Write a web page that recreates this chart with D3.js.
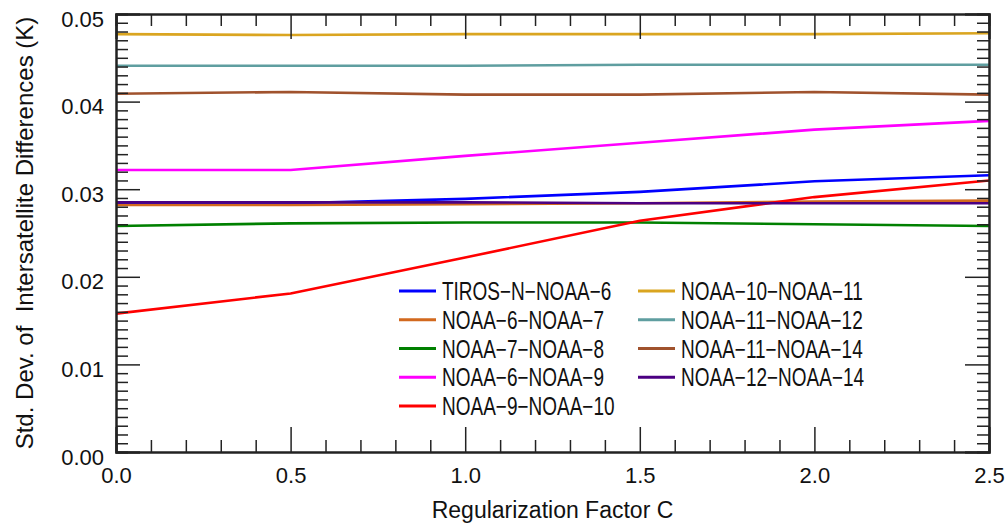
<!DOCTYPE html>
<html>
<head>
<meta charset="utf-8">
<script src="https://cdn.jsdelivr.net/npm/d3@7"></script>
<style>
    body { margin: 0; background: #fff; }
    text { font-family: "Liberation Sans", Arial, sans-serif; fill: #111; }
    .axis path, .axis line { stroke: #222; }
    .axis path { stroke-width: 2; }
    .axis line { stroke-width: 1.5; }
</style>
</head>
<body>
<script>
// values, C = 0 .. 2.5 in steps of 0.5
var cValues = [0.0, 0.5, 1.0, 1.5, 2.0, 2.5];

var tirosNoaa6  = [0.0284, 0.0284, 0.0289, 0.0297, 0.0309, 0.0316];
var noaa6Noaa7  = [0.0282, 0.0282, 0.0283, 0.0284, 0.0286, 0.0287];
var noaa7Noaa8  = [0.0258, 0.0261, 0.0262, 0.0262, 0.0260, 0.0258];
var noaa6Noaa9  = [0.0322, 0.0322, 0.0338, 0.0353, 0.0368, 0.0378];
var noaa9Noaa10 = [0.0158, 0.0181, 0.0222, 0.0264, 0.0291, 0.0310];
var noaa10Noaa11 = [0.0477, 0.0476, 0.0477, 0.0477, 0.0477, 0.0478];
var noaa11Noaa12 = [0.0441, 0.0441, 0.0441, 0.0442, 0.0442, 0.0442];
var noaa11Noaa14 = [0.0409, 0.0411, 0.0408, 0.0408, 0.0411, 0.0408];
var noaa12Noaa14 = [0.0285, 0.0285, 0.0285, 0.0284, 0.0284, 0.0284];

var seriesNames = ["TIROS\u2212N\u2212NOAA\u22126", "NOAA\u22126\u2212NOAA\u22127", "NOAA\u22127\u2212NOAA\u22128",
                   "NOAA\u22126\u2212NOAA\u22129", "NOAA\u22129\u2212NOAA\u221210", "NOAA\u221210\u2212NOAA\u221211",
                   "NOAA\u221211\u2212NOAA\u221212", "NOAA\u221211\u2212NOAA\u221214", "NOAA\u221212\u2212NOAA\u221214"];
var seriesColors = ["#0000ff", "#d2691e", "#008000", "#ff00ff", "#ff0000",
                    "#daa520", "#5f9ea0", "#a0522d", "#4b0082"];
var seriesValues = [tirosNoaa6, noaa6Noaa7, noaa7Noaa8, noaa6Noaa9, noaa9Noaa10,
                    noaa10Noaa11, noaa11Noaa12, noaa11Noaa14, noaa12Noaa14];

var xMajor = [0, 0.5, 1.0, 1.5, 2.0, 2.5];
var yMajor = [0, 0.01, 0.02, 0.03, 0.04, 0.05];

var margin = {top: 14, right: 16, bottom: 73, left: 116},
    width = 1005 - margin.left - margin.right,
    height = 525 - margin.top - margin.bottom;

var x = d3.scaleLinear().domain([0, 2.5]).range([0, width]);
var y = d3.scaleLinear().domain([0, 0.05]).range([height, 0]);

var xMinor = d3.range(0, 26).map(function(i) { return i / 10; })
        .filter(function(v) { return Math.round(v * 10) % 5 !== 0; });
var yMinor = d3.range(0, 51).map(function(i) { return i / 1000; })
        .filter(function(v) { return Math.round(v * 1000) % 10 !== 0; });

var svg = d3.select("body").append("svg")
        .attr("width", 1005)
        .attr("height", 525)
        .append("g")
        .attr("transform", "translate(" + margin.left + "," + margin.top + ")");

// series
var line = d3.line()
        .x(function(d, i) { return x(cValues[i]); })
        .y(function(d) { return y(d); });

seriesValues.forEach(function(vals, k) {
    svg.append("path")
        .datum(vals)
        .attr("fill", "none")
        .attr("stroke", seriesColors[k])
        .attr("stroke-width", 2.6)
        .attr("d", line);
});

// axes, ticks all pointing inward
svg.append("g").attr("class", "axis")
        .attr("transform", "translate(0," + height + ")")
        .call(d3.axisBottom(x).tickValues(xMajor).tickSize(-25).tickPadding(15).tickFormat(d3.format(".1f")))
        .selectAll("text").style("font-size", "22px");
svg.append("g").attr("class", "axis")
        .attr("transform", "translate(0," + height + ")")
        .call(d3.axisBottom(x).tickValues(xMinor).tickSize(-12).tickFormat(""));
svg.append("g").attr("class", "axis")
        .call(d3.axisTop(x).tickValues(xMajor).tickSize(-25).tickFormat(""));
svg.append("g").attr("class", "axis")
        .call(d3.axisTop(x).tickValues(xMinor).tickSize(-12).tickFormat(""));

svg.append("g").attr("class", "axis")
        .call(d3.axisLeft(y).tickValues(yMajor).tickSize(-24).tickPadding(12).tickFormat(d3.format(".2f")))
        .selectAll("text").style("font-size", "22px").attr("dy", "0.55em");
svg.append("g").attr("class", "axis")
        .call(d3.axisLeft(y).tickValues(yMinor).tickSize(-12).tickFormat(""));
svg.append("g").attr("class", "axis")
        .attr("transform", "translate(" + width + ",0)")
        .call(d3.axisRight(y).tickValues(yMajor).tickSize(-24).tickFormat(""));
svg.append("g").attr("class", "axis")
        .attr("transform", "translate(" + width + ",0)")
        .call(d3.axisRight(y).tickValues(yMinor).tickSize(-12).tickFormat(""));

svg.selectAll(".axis .domain").attr("stroke-width", 2);

// axis titles
svg.append("text")
        .attr("x", width / 2)
        .attr("y", height + 66)
        .style("text-anchor", "middle")
        .style("font-size", "23px")
        .text("Regularization Factor C");

svg.append("text")
        .attr("transform", "translate(" + (33 - margin.left) + "," + (233 - margin.top) + ") rotate(-90)")
        .style("text-anchor", "middle")
        .style("font-size", "24px")
        .style("white-space", "pre")
        .text("Std. Dev. of  Intersatellite Differences (K)");

// legend, two columns (text squeezed a bit to look like the narrow original font)
var legend = svg.append("g").attr("class", "legend");
seriesNames.forEach(function(name, k) {
    var col = k < 5 ? 0 : 1,
        row = k < 5 ? k : k - 5;
    var lx = (col === 0 ? 399 : 638) - margin.left,
        ly = 291 + row * 28.75 - margin.top;
    legend.append("line")
        .attr("x1", lx).attr("x2", lx + 37)
        .attr("y1", ly).attr("y2", ly)
        .attr("stroke", seriesColors[k])
        .attr("stroke-width", 3);
    legend.append("text")
        .attr("transform", "translate(" + (lx + 43) + "," + (ly + 9) + ") scale(0.76,1)")
        .style("font-size", "25px")
        .text(name);
});
</script>
</body>
</html>
